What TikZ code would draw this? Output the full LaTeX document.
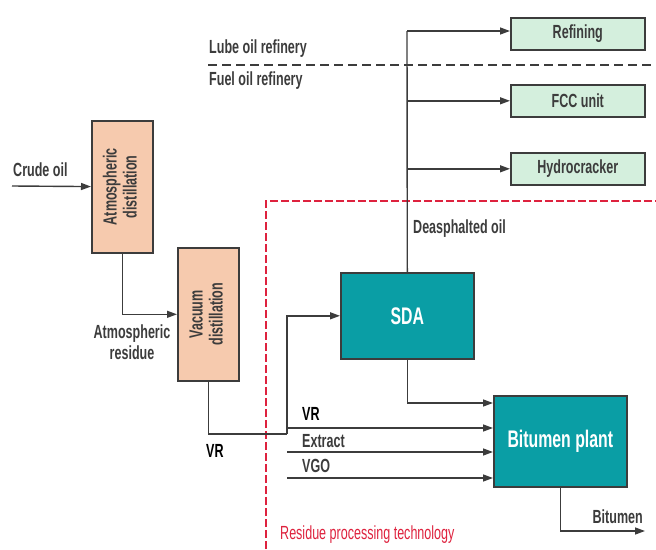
\documentclass[tikz,border=0pt]{standalone}
\usepackage{fontspec}
\setmainfont{Liberation Sans}[FakeStretch=0.66]
\usetikzlibrary{positioning}
\usetikzlibrary{arrows.meta}
\definecolor{linegray}{RGB}{60,60,60}
\definecolor{peach}{RGB}{246,202,174}
\definecolor{mint}{RGB}{212,239,221}
\definecolor{teal2}{RGB}{10,158,165}
\definecolor{redline}{RGB}{222,34,62}

\begin{document}
\begin{tikzpicture}[x=1pt,y=-1pt,font=\fontsize{19}{21}\selectfont\bfseries,
  unit/.style={draw=linegray,line width=1.6pt,anchor=north west,inner sep=0pt,align=center},
  colbox/.style={unit,fill=peach,minimum width=61pt,minimum height=133pt,text=linegray},
  outbox/.style={unit,fill=mint,minimum width=134pt,minimum height=32pt,text=linegray},
  mainbox/.style={unit,fill=teal2,text=white,font=\fontsize{24}{26}\selectfont\bfseries},
  flow/.style={draw=linegray,line width=1.4pt,-{Triangle[length=10pt,width=7pt]}},
  lbl/.style={text=linegray,inner sep=0pt}]
\useasboundingbox (0,0) rectangle (656,549);
% process units
\node[colbox,minimum height=132pt] (atm) at (91,120) {\rotatebox{90}{\begin{tabular}{@{}c@{}}Atmospheric\\[-1pt] distillation\end{tabular}}};
\node[colbox] (vac) at (177,247) {\rotatebox{90}{\begin{tabular}{@{}c@{}}Vacuum\\[-1pt] distillation\end{tabular}}};
\node[mainbox,minimum width=133pt,minimum height=86pt] (sda) at (340,272) {SDA};
\node[mainbox,minimum width=133pt,minimum height=91pt] (bit) at (493,395) {Bitumen plant};
\node[outbox] (ref) at (510,17) {Refining};
\node[outbox] (fcc) at (510,84) {FCC unit};
\node[outbox] (hyd) at (510,152) {Hydrocracker};
% refinery split and residue area
\draw[linegray,line width=1.6pt,dash pattern=on 9pt off 5pt] (208,65) -- (656,65);
\draw[redline,line width=1.8pt,dash pattern=on 8pt off 3pt] (266,549) -- (266,201) -- (656,201);
% junction points
\coordinate (crude) at (12,186);
\coordinate (vrjoin) at (287,434);
\coordinate (vr) at (287,428);
\coordinate (ext) at (287,452);
\coordinate (vgo) at (287,478);
\coordinate (sdain) at (493,403);
\coordinate (dtop) at (407,31);
\coordinate (bout) at (645,531);
% streams
\draw[flow] (crude) -- (atm);
\draw[flow] (atm.south) |- (vac.west);
\draw[linegray,line width=1.4pt] (vac.south) |- (vrjoin);
\draw[flow] (vrjoin) |- (sda.west);
\draw[flow] (vr) -- (vr -| bit.west);
\draw[flow] (ext) -- (ext -| bit.west);
\draw[flow] (vgo) -- (vgo -| bit.west);
\draw[flow] (sda.south) |- (sdain);
\draw[flow] (bit.south) |- (bout);
\draw[linegray,line width=1.4pt] (sda.north) -- (dtop);
\draw[flow] (dtop) -- (dtop -| ref.west);
\draw[flow] (sda.north |- fcc.west) -- (fcc.west);
\draw[flow] (sda.north |- hyd.west) -- (hyd.west);
% labels
\node[lbl,anchor=west] (crudelbl) at (13,170) {Crude oil};
\node[lbl,align=center] (atmres) at (132,342) {Atmospheric\\residue};
\node[lbl,anchor=west,text=black] (vrlbl) at (206,451) {VR};
\node[lbl,anchor=west,text=black] (vrlbl2) at (302,414) {VR};
\node[lbl,anchor=west] (extlbl) at (302,441) {Extract};
\node[lbl,anchor=west] (vgolbl) at (302,466) {VGO};
\node[lbl,anchor=east] (bitlbl) at (643,517) {Bitumen};
\node[lbl,anchor=west] (daolbl) at (413,229) {Deasphalted oil};
\node[lbl,anchor=west] (lube) at (209,49) {Lube oil refinery};
\node[lbl,anchor=west] (fuel) at (209,81) {Fuel oil refinery};
\node[lbl,anchor=west,text=redline,font=\fontsize{19}{21}\selectfont] (rpt) at (280,535) {Residue processing technology};
\end{tikzpicture}
\end{document}
